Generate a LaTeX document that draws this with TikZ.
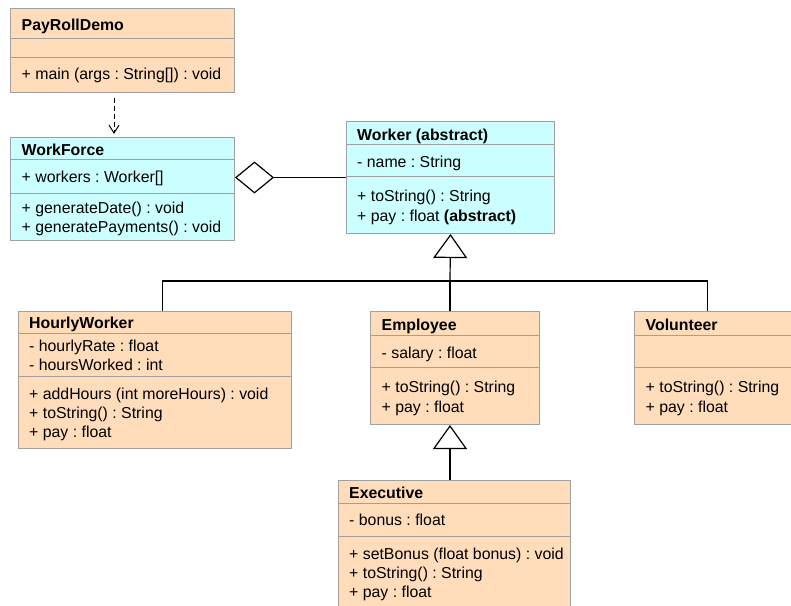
\documentclass[tikz,border=0pt]{standalone}
\usepackage{fontspec}
\setmainfont{Liberation Sans}
\usetikzlibrary{arrows.meta}
\definecolor{peach}{HTML}{FFDDBB}
\definecolor{aqua}{HTML}{CCFFFF}
\definecolor{rim}{HTML}{A0A0A0}
\newcommand\umlfont{\fontsize{15.85}{19}\selectfont\frenchspacing}
\begin{document}
\frenchspacing
\begin{tikzpicture}[x=1pt,y=-1pt,
  classbox/.style={draw=rim, line width=1pt, anchor=north west, inner sep=0pt, rectangle},
  peachbox/.style={classbox, fill=peach},
  aquabox/.style={classbox, fill=aqua},
  sepline/.style={draw=rim, line width=1pt},
  ctitle/.style={anchor=base west, inner sep=0pt, font=\umlfont\bfseries},
  member/.style={anchor=base west, inner sep=0pt, font=\umlfont},
  link/.style={draw=black, line width=1.2pt},
  deplink/.style={draw=black, line width=1pt, dash pattern=on 5pt off 3pt,
    -{Straight Barb[length=8pt, width=10pt, line width=1pt]}},
  aggr/.style={link, -{Diamond[open, length=39pt, width=32pt, line width=1.2pt]}},
  inh/.style={link, -{Triangle[open, length=24pt, width=34pt, line width=1.2pt]}},
]
\clip (0,0) rectangle (791,605);
\fill[white] (0,0) rectangle (791,605);

% ---- PayRollDemo ----
\node[peachbox, minimum width=224pt, minimum height=84pt] (prd) at (10,8) {};
\draw[sepline] (10,38) -- (234,38);
\draw[sepline] (10,57) -- (234,57);
\node[ctitle] (prdT) at (21.5,30.5) {PayRollDemo};
\node[member] (prdM1) at (21.5,79.5) {+ main (args : String[]) : void};

% ---- WorkForce ----
\node[aquabox, minimum width=224pt, minimum height=103pt] (wf) at (10,137) {};
\draw[sepline] (10,159) -- (234,159);
\draw[sepline] (10,193) -- (234,193);
\node[ctitle] (wfT) at (21.5,155.5) {WorkForce};
\node[member] (wfA1) at (21.5,182.5) {+ workers : Worker[]};
\node[member] (wfM1) at (21.5,213.5) {+ generateDate() : void};
\node[member] (wfM2) at (21.5,232.5) {+ generatePayments() : void};

% ---- Worker ----
\node[aquabox, minimum width=208pt, minimum height=112pt] (wk) at (346,121) {};
\draw[sepline] (346,144) -- (554,144);
\draw[sepline] (346,176) -- (554,176);
\node[ctitle] (wkT) at (357,140.5) {Worker (abstract)};
\node[member] (wkA1) at (357,167.5) {- name : String};
\node[member] (wkM1) at (357,201.5) {+ toString() : String};
\node[member] (wkM2) at (357,221.5) {+ pay : float \textbf{(abstract)}};

% ---- HourlyWorker ----
\node[peachbox, minimum width=273pt, minimum height=137pt] (hw) at (18,311) {};
\draw[sepline] (18,333) -- (291,333);
\draw[sepline] (18,376) -- (291,376);
\node[ctitle] (hwT) at (29,328.5) {HourlyWorker};
\node[member] (hwA1) at (29,351.5) {- hourlyRate : float};
\node[member] (hwA2) at (29,370.5) {- hoursWorked : int};
\node[member] (hwM1) at (29,399.5) {+ addHours (int moreHours) : void};
\node[member] (hwM2) at (29,418.5) {+ toString() : String};
\node[member] (hwM3) at (29,437.5) {+ pay : float};

% ---- Employee ----
\node[peachbox, minimum width=169pt, minimum height=113pt] (emp) at (370,311) {};
\draw[sepline] (370,335) -- (539,335);
\draw[sepline] (370,367) -- (539,367);
\node[ctitle] (empT) at (381.5,330.5) {Employee};
\node[member] (empA1) at (381.5,358.5) {- salary : float};
\node[member] (empM1) at (381.5,392.5) {+ toString() : String};
\node[member] (empM2) at (381.5,412.5) {+ pay : float};

% ---- Volunteer ----
\node[peachbox, minimum width=176pt, minimum height=113pt] (vol) at (634,311) {};
\draw[sepline] (634,335) -- (810,335);
\draw[sepline] (634,367) -- (810,367);
\node[ctitle] (volT) at (645.5,330.5) {Volunteer};
\node[member] (volM1) at (645.5,392.5) {+ toString() : String};
\node[member] (volM2) at (645.5,412.5) {+ pay : float};

% ---- Executive ----
\node[peachbox, minimum width=232pt, minimum height=140pt] (ex) at (338,480) {};
\draw[sepline] (338,503) -- (570,503);
\draw[sepline] (338,536) -- (570,536);
\node[ctitle] (exT) at (349,498.5) {Executive};
\node[member] (exA1) at (349,525.5) {- bonus : float};
\node[member] (exM1) at (349,559.5) {+ setBonus (float bonus) : void};
\node[member] (exM2) at (349,578.5) {+ toString() : String};
\node[member] (exM3) at (349,597.5) {+ pay : float};

% ---- relationships ----
% dependency PayRollDemo -> WorkForce
\draw[deplink, shorten <=5pt, shorten >=3pt]
  ([xshift=-8.5pt]prd.south) -- ([xshift=-8.5pt]wf.north);
% aggregation WorkForce <>-- Worker
\draw[aggr] (wk.west) -- (wk.west -| wf.east);
% generalisation tree below Worker
\coordinate (bus) at (450,281);
\draw[inh] (bus) -- (wk.south);
\draw[link] ([xshift=7.5pt]hw.north) |- (bus) -| ([xshift=-15pt]vol.north);
\draw[link] (emp.north -| bus) -- (bus);
% Executive specialises Employee
\draw[inh] (ex.north -| bus) -- (emp.south -| bus);
\end{tikzpicture}
\end{document}
